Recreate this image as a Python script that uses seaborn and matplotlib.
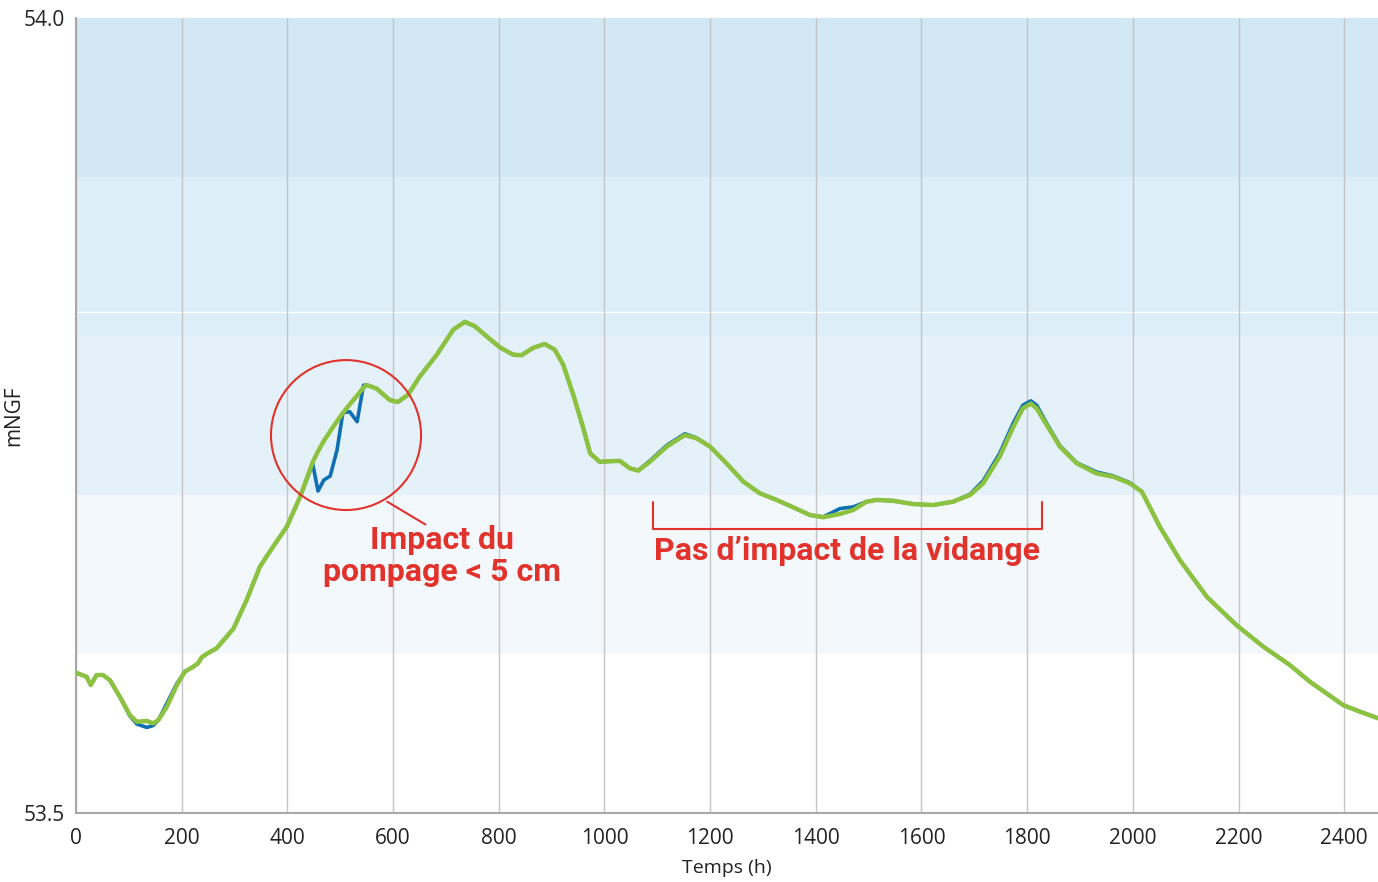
import matplotlib
matplotlib.use("Agg")
import matplotlib.pyplot as plt
from matplotlib.patches import Ellipse
import seaborn as sns
import pandas as pd

# --- Données (temps en heures, niveau en mNGF) ---
heures = [0, 20, 28, 39, 51, 64, 83, 102, 115, 134, 146, 156, 172, 191, 206,
          222, 231, 238, 247, 266, 285, 298, 323, 348, 373, 399, 424, 448,
          458, 469, 481, 494, 505, 518, 532, 544, 550, 569, 594, 609, 628,
          651, 683, 714, 736, 755, 777, 802, 827, 843, 865, 887, 906, 922,
          941, 960, 973, 991, 1029, 1048, 1064, 1086, 1118, 1152, 1174, 1200,
          1231, 1263, 1294, 1326, 1357, 1389, 1414, 1446, 1471, 1496, 1515,
          1546, 1584, 1622, 1660, 1692, 1717, 1748, 1774, 1792, 1807, 1818,
          1837, 1862, 1894, 1931, 1963, 1994, 2017, 2051, 2089, 2140, 2196,
          2247, 2297, 2335, 2398, 2430, 2464]
niveau_vert = [53.5882, 53.5857, 53.5805, 53.5868, 53.5868, 53.5836, 53.5731,
               53.5616, 53.5574, 53.5579, 53.5564, 53.5585, 53.5669, 53.5805,
               53.5889, 53.5920, 53.5942, 53.5979, 53.6000, 53.6036, 53.6109,
               53.6160, 53.6340, 53.6549, 53.6675, 53.6801, 53.6988, 53.7207,
               53.7275, 53.7340, 53.7400, 53.7465, 53.7515, 53.7570, 53.7625,
               53.7675, 53.7692, 53.7669, 53.7597, 53.7585, 53.7629, 53.7747,
               53.7883, 53.8040, 53.8089, 53.8061, 53.7998, 53.7929, 53.7883,
               53.7879, 53.7925, 53.7950, 53.7914, 53.7820, 53.7631, 53.7421,
               53.7262, 53.7209, 53.7215, 53.7168, 53.7153, 53.7209, 53.7304,
               53.7377, 53.7357, 53.7304, 53.7199, 53.7084, 53.7011, 53.6969,
               53.6923, 53.6874, 53.6860, 53.6881, 53.6906, 53.6958, 53.6969,
               53.6964, 53.6943, 53.6937, 53.6958, 53.7000, 53.7074, 53.7241,
               53.7430, 53.7545, 53.7575, 53.7545, 53.7440, 53.7304, 53.7199,
               53.7136, 53.7115, 53.7074, 53.7021, 53.6801, 53.6591, 53.6360,
               53.6182, 53.6046, 53.5931, 53.5826, 53.5679, 53.5637, 53.5596]
niveau_bleu = [53.5882, 53.5857, 53.5805, 53.5868, 53.5868, 53.5836, 53.5731,
               53.5610, 53.5560, 53.5538, 53.5550, 53.5585, 53.5690, 53.5815,
               53.5889, 53.5920, 53.5942, 53.5979, 53.6000, 53.6036, 53.6109,
               53.6160, 53.6340, 53.6549, 53.6675, 53.6801, 53.6988, 53.7195,
               53.7025, 53.7094, 53.7119, 53.7283, 53.7517, 53.7524, 53.7461,
               53.7690, 53.7692, 53.7669, 53.7597, 53.7585, 53.7629, 53.7747,
               53.7883, 53.8040, 53.8089, 53.8061, 53.7998, 53.7929, 53.7883,
               53.7879, 53.7925, 53.7950, 53.7914, 53.7820, 53.7631, 53.7421,
               53.7262, 53.7209, 53.7215, 53.7168, 53.7155, 53.7215, 53.7312,
               53.7385, 53.7360, 53.7304, 53.7199, 53.7084, 53.7011, 53.6969,
               53.6923, 53.6874, 53.6862, 53.6915, 53.6925, 53.6958, 53.6969,
               53.6964, 53.6943, 53.6937, 53.6958, 53.7005, 53.7090, 53.7262,
               53.7455, 53.7565, 53.7592, 53.7565, 53.7450, 53.7310, 53.7202,
               53.7145, 53.7120, 53.7078, 53.7021, 53.6801, 53.6591, 53.6360,
               53.6182, 53.6046, 53.5931, 53.5826, 53.5679, 53.5637, 53.5596]

bandes = [53.6, 53.7, 53.8, 53.9, 54.0]
couleurs_bandes = ["#f3f8fc", "#e5f1f9", "#ddeef8", "#d2e8f5"]
ticks_x = list(range(0, 2401, 200))

df = pd.DataFrame({"t": heures, "vert": niveau_vert, "bleu": niveau_bleu})

sns.set_style("white")
plt.rcParams["font.family"] = ["Open Sans", "DejaVu Sans"]

fig, ax = plt.subplots(figsize=(13.78, 8.82), dpi=100)
fig.subplots_adjust(left=76 / 1378, right=1.0, top=1 - 18 / 882, bottom=1 - 813 / 882)

# bandes de fond
for i, c in enumerate(couleurs_bandes):
    ax.axhspan(bandes[i], bandes[i + 1], color=c, lw=0, zorder=0)
ax.axhline(53.815, color="white", lw=1, zorder=0.5)

for x in ticks_x:
    ax.axvline(x, color="#c4c4c4", lw=1, zorder=1)

sns.lineplot(data=df, x="t", y="bleu", ax=ax, color="#0e6fb3", lw=2.6,
             sort=False, zorder=3)
sns.lineplot(data=df, x="t", y="vert", ax=ax, color="#8cc23f", lw=3.2,
             sort=False, zorder=4)

ax.set_xlim(0, 2464)
ax.set_ylim(53.5, 54.0)
ax.set_xticks(ticks_x)
ax.set_yticks([53.5, 54.0])
ax.set_yticklabels(["53.5", "54.0"])
ax.tick_params(axis="both", length=0, labelsize=15, colors="#222222")
ax.tick_params(axis="x", pad=11)
ax.tick_params(axis="y", pad=8)
ax.set_xlabel("Temps (h)", fontsize=14, color="#222222")
ax.set_ylabel("mNGF", fontsize=15, color="#222222")
ax.xaxis.set_label_coords(0.5, -0.058)
ax.yaxis.set_label_coords(-0.04, 0.5)

for s in ["top", "right"]:
    ax.spines[s].set_visible(False)
for s in ["left", "bottom"]:
    ax.spines[s].set_color("#a8a8a8")
    ax.spines[s].set_linewidth(1.5)

rouge = "#e1322b"
# cercle autour de l'impact du pompage
ax.add_patch(Ellipse((511, 53.7377), 284, 0.0943, fill=False, edgecolor=rouge,
                     lw=1.5, zorder=5))
ax.plot([589, 661], [53.6958, 53.6815], color=rouge, lw=1.5, zorder=5)
ax.text(693, 53.6615, "Impact du\npompage < 5 cm", color=rouge, fontsize=23,
        fontweight="bold", ha="center", va="center", linespacing=1.1,
        family=["Roboto", "DejaVu Sans"], zorder=6)

# accolade "pas d'impact"
ax.plot([1092, 1092, 1828, 1828], [53.6956, 53.6786, 53.6786, 53.6956],
        color=rouge, lw=1.5, zorder=5)
ax.text(1460, 53.6645, "Pas d\u2019impact de la vidange", color=rouge,
        fontsize=23, fontweight="bold", ha="center", va="center",
        family=["Roboto", "DejaVu Sans"], zorder=6)

fig.savefig("out.png", dpi=100)
